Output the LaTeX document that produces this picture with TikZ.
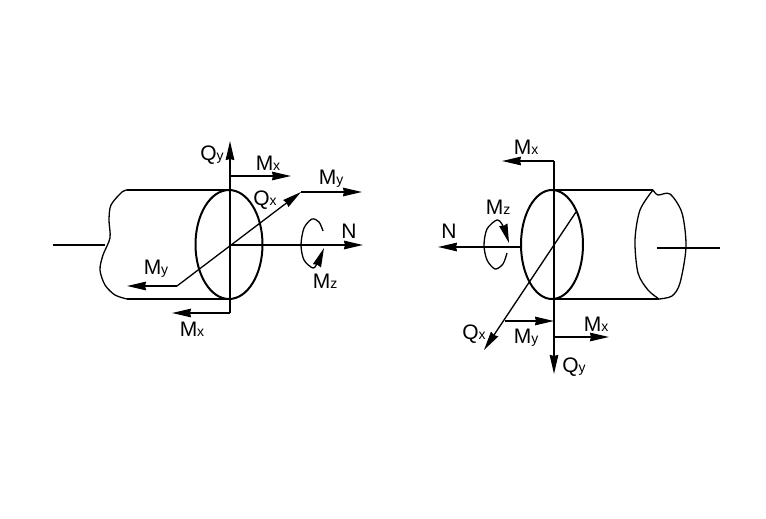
\documentclass[tikz,border=0pt]{standalone}
\usepackage{fontspec}
\setmainfont{Liberation Sans}
\usetikzlibrary{arrows.meta,shapes.geometric}
\tikzset{
    tip/.style={-{Stealth[length=19pt,width=8.5pt,inset=1pt]}},
    force/.style={line width=1.7pt, tip},
    bar/.style={line width=1.7pt},
    outline/.style={line width=1.3pt},
    lbl/.style={inner sep=0pt, font=\fontsize{21}{21}\selectfont},
    section/.style={draw, ellipse, inner sep=0pt, line width=2pt}
}
\newcommand{\sub}[2]{#1{\fontsize{14}{14}\selectfont #2}}
\begin{document}
\begin{tikzpicture}[x=1pt, y=-1pt]
    \useasboundingbox (0,0) rectangle (766,519);

    % left piece
    \node[section, minimum width=67pt, minimum height=109pt] at (229,244.5) (E1) {};
    \coordinate (A) at (230,245);
    \coordinate (Atop) at (230,141);
    \coordinate (Abot) at (230,313);
    \coordinate (B1) at (127,190);
    \coordinate (B2) at (230,190);
    \coordinate (B3) at (127,299);
    \coordinate (B4) at (230,299);
    \coordinate (C1) at (53,245);
    \coordinate (C2) at (105,245);
    \coordinate (Nend) at (363,245);
    \coordinate (D1) at (177,286);
    \coordinate (D2) at (301,192);
    \coordinate (D3) at (362,192);
    \coordinate (D4) at (127,286);
    \coordinate (F1) at (230,176);
    \coordinate (F2) at (291,176);
    \coordinate (F3) at (172,313);

    \draw[bar] (B1) -- (B2);
    \draw[bar] (B3) -- (B4);
    \draw[outline] (C1) -- (C2);
    \draw[outline] plot[smooth] coordinates {(127,190) (122,192) (111,205) (109,220) (110,238) (103,255) (100,270) (105,285) (115,295) (127,299)};
    \draw[force] (Abot) -- (Atop);
    \draw[force] (F1) -- (F2);
    \draw[force] (Abot) -- (F3);
    \draw[force] (A) -- (Nend);
    \draw[outline, tip] (D1) -- (D2);
    \draw[force] (D2) -- (D3);
    \draw[force] (D1) -- (D4);
    \draw[outline, tip] plot[smooth] coordinates {(323,231) (319,222) (312,219) (304,228) (301,245) (304,260) (313,268) (318,262) (324,248)};

    \node[lbl] at (212,155) (Qy1) {\sub{Q}{y}};
    \node[lbl] at (268,163) (Mx1) {\sub{M}{x}};
    \node[lbl] at (331,179) (My1) {\sub{M}{y}};
    \node[lbl] at (265,200) (Qx1) {\sub{Q}{x}};
    \node[lbl] at (349,231) (N1) {N};
    \node[lbl] at (325,281) (Mz1) {\sub{M}{z}};
    \node[lbl] at (156,269) (My2) {\sub{M}{y}};
    \node[lbl] at (192,329) (Mx2) {\sub{M}{x}};

    % right piece
    \node[section, minimum width=62pt, minimum height=109pt] at (552,244.5) (E2) {};
    \coordinate (R) at (554,245);
    \coordinate (Rtop) at (554,161);
    \coordinate (Rbot) at (554,374);
    \coordinate (G1) at (554,190);
    \coordinate (G2) at (653,190);
    \coordinate (G3) at (554,299);
    \coordinate (G4) at (659,299);
    \coordinate (H1) at (657,248);
    \coordinate (H2) at (720,248);
    \coordinate (Nstart) at (521,247);
    \coordinate (Nleft) at (438,247);
    \coordinate (K1) at (576,212);
    \coordinate (K2) at (484,350);
    \coordinate (K3) at (505,321);
    \coordinate (K4) at (554,321);
    \coordinate (L1) at (502,161);
    \coordinate (L2) at (554,337);
    \coordinate (L3) at (609,337);

    \draw[bar] (G1) -- (G2);
    \draw[bar] (G3) -- (G4);
    \draw[outline] (H1) -- (H2);
    \draw[outline] plot[smooth] coordinates {(653,190) (658,195) (670,194) (682,213) (686,247) (680,283) (672,296) (659,299)};
    \draw[outline] plot[smooth] coordinates {(653,190) (640,210) (635,240) (638,273) (648,290) (659,299)};
    \draw[force] (Rtop) -- (Rbot);
    \draw[force] (Rtop) -- (L1);
    \draw[force] (L2) -- (L3);
    \draw[force] (Nstart) -- (Nleft);
    \draw[outline, tip] (K1) -- (K2);
    \draw[force] (K3) -- (K4);
    \draw[outline, tip] plot[smooth] coordinates {(507,253) (503,264) (495,269) (487,260) (484,245) (487,229) (497,220) (503,226) (509,243)};

    \node[lbl] at (526,147) (Mx3) {\sub{M}{x}};
    \node[lbl] at (498,207) (Mz2) {\sub{M}{z}};
    \node[lbl] at (449,231) (N2) {N};
    \node[lbl] at (474,334) (Qx2) {\sub{Q}{x}};
    \node[lbl] at (526,338) (My3) {\sub{M}{y}};
    \node[lbl] at (596,324) (Mx4) {\sub{M}{x}};
    \node[lbl] at (574,367) (Qy2) {\sub{Q}{y}};
\end{tikzpicture}
\end{document}
